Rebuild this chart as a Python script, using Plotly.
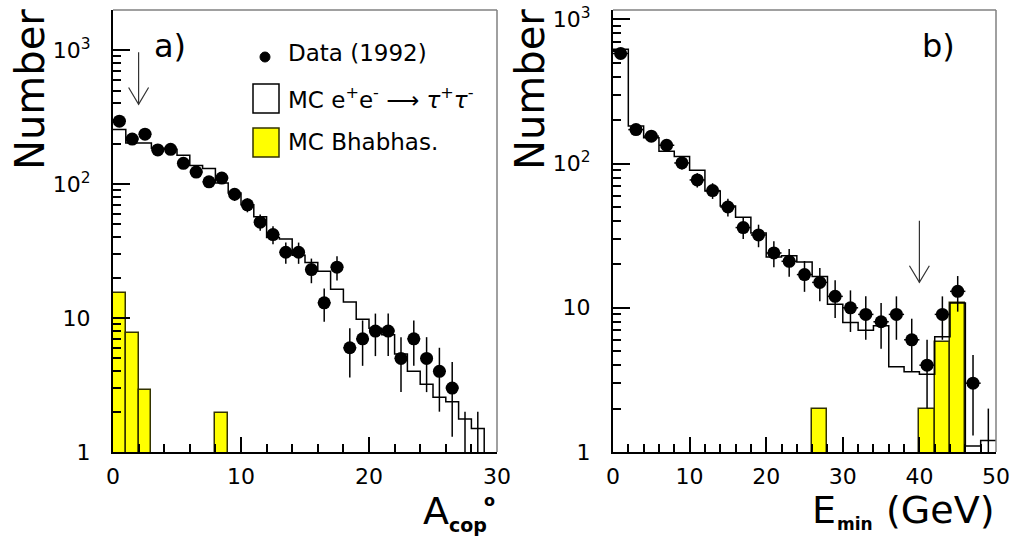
import plotly.graph_objects as go

# ---------------- data: panel a) acoplanarity ----------------
a_centers = [0.5, 1.5, 2.5, 3.5, 4.5, 5.5, 6.5, 7.5, 8.5, 9.5, 10.5, 11.5, 12.5, 13.5,
             14.5, 15.5, 16.5, 17.5, 18.5, 19.5, 20.5, 21.5, 22.5, 23.5, 24.5, 25.5, 26.5]
a_data = [295, 217, 236, 180, 182, 143, 123, 104, 111, 84, 70, 52, 42, 31,
          31, 23, 13, 24, 6, 7, 8, 8, 5, 7, 5, 4, 3]
a_err = [17.2, 14.7, 15.4, 13.4, 13.5, 12.0, 11.1, 10.2, 10.5, 9.2, 8.4, 7.2, 6.5, 5.6,
         5.6, 4.8, 3.6, 4.9, 2.4, 2.6, 2.8, 2.8, 2.2, 2.6, 2.2, 2.0, 1.7]
a_low_centers = [27.5, 28.5]
a_low_data = [1, 1]
a_low_err = [1, 1]
a_edges = list(range(0, 31))
a_mc_tau = [256, 203, 203, 185, 182, 164, 138, 131, 102, 86, 70, 57, 40, 39,
            29.5, 26, 22.4, 16.4, 13.2, 9.8, 8.4, 7.5, 5.4, 4.0, 3.2, 2.56, 2.37, 1.76, 1.5, 0.01]
a_bhabha_centers = [0.5, 1.5, 2.5, 8.5]
a_bhabha = [15.5, 7.8, 2.9, 1.95]
a_cut = 2

# ---------------- data: panel b) E_min ----------------
b_centers = [1, 3, 5, 7, 9, 11, 13, 15, 17, 19, 21, 23, 25, 27, 29, 31, 33, 35, 37, 39, 41, 43, 45, 47]
b_data = [580, 172, 155, 134, 101, 77, 65, 50, 36, 32, 24, 21, 17, 15, 12, 10, 9, 8, 9, 6, 4, 9, 13, 3]
b_err = [24.1, 13.1, 12.4, 11.6, 10.0, 8.8, 8.1, 7.1, 6.0, 5.7, 4.9, 4.6, 4.1, 3.9, 3.5, 3.2,
         3.0, 2.8, 3.0, 2.4, 2.0, 3.0, 3.6, 1.7]
b_low_centers = [49]
b_low_data = [1]
b_low_err = [1]
b_edges = list(range(0, 52, 2))
b_mc_tau = [620, 182, 151, 122, 112, 90, 64.5, 50.7, 42.5, 33, 22.5, 23, 20.8, 16.5,
            10.6, 7.9, 7.0, 7.5, 3.9, 3.6, 3.46, 6.3, 10.8, 1.1, 1.2]
b_bhabha_centers = [27, 41, 43, 45]
b_bhabha = [2, 2, 5.8, 10.8]
b_cut = 40

W, H = 1017, 540
FONT = "DejaVu Sans"

def px(x):
    return x / W

def py(y):
    return 1 - y / H

fig = go.Figure()

def step_xy(edges, vals):
    xs = list(edges[:len(vals)]) + [edges[len(vals)]]
    ys = list(vals) + [vals[-1]]
    return xs, ys

def add_panel(xa, ya, centers, data, err, low_c, low_d, low_e, edges, mc, bh_c, bh, bw):
    fig.add_trace(go.Bar(x=bh_c, y=bh, width=bw, marker=dict(color="#ffff00",
                         line=dict(color="#333300", width=1.5)),
                         xaxis=xa, yaxis=ya, showlegend=False))
    sx, sy = step_xy(edges, mc)
    fig.add_trace(go.Scatter(x=sx, y=sy, mode="lines", line=dict(shape="hv", color="black", width=1.5),
                             xaxis=xa, yaxis=ya, showlegend=False))
    fig.add_trace(go.Scatter(x=centers, y=data, mode="markers",
                             marker=dict(color="black", size=13),
                             error_y=dict(type="data", array=err, color="black", thickness=1.5, width=0),
                             error_x=dict(type="constant", value=bw / 2, color="black", thickness=1.5, width=0),
                             xaxis=xa, yaxis=ya, showlegend=False))
    fig.add_trace(go.Scatter(x=low_c, y=low_d, mode="markers",
                             marker=dict(color="black", size=0.1),
                             error_y=dict(type="data", array=low_e, arrayminus=[0] * len(low_e),
                                          symmetric=False, color="black", thickness=1.5, width=0),
                             xaxis=xa, yaxis=ya, showlegend=False))

add_panel("x", "y", a_centers, a_data, a_err, a_low_centers, a_low_data, a_low_err,
          a_edges, a_mc_tau, a_bhabha_centers, a_bhabha, 1)
add_panel("x2", "y2", b_centers, b_data, b_err, b_low_centers, b_low_data, b_low_err,
          b_edges, b_mc_tau, b_bhabha_centers, b_bhabha, 2)

# cut arrows (open V heads)
def add_arrow(xa, ya, xc, ytop, ytip, half_w, head_dec):
    fig.add_trace(go.Scatter(x=[xc, xc], y=[ytop, ytip], mode="lines",
                             line=dict(color="#333333", width=1.2), xaxis=xa, yaxis=ya, showlegend=False))
    f = 10 ** head_dec
    fig.add_trace(go.Scatter(x=[xc - half_w, xc, xc + half_w], y=[ytip * f, ytip, ytip * f], mode="lines",
                             line=dict(color="#333333", width=1.2), xaxis=xa, yaxis=ya, showlegend=False))

add_arrow("x", "y", a_cut, 966, 395, 0.78, 0.125)
add_arrow("x2", "y2", b_cut, 40.2, 15, 1.3, 0.115)

log_minor = [2, 3, 4, 5, 6, 7, 8, 9, 20, 30, 40, 50, 60, 70, 80, 90,
             200, 300, 400, 500, 600, 700, 800, 900, 2000]

def xaxis_cfg(dom, rng, tv, minor_tv):
    return dict(domain=dom, range=rng, showline=True, linecolor="black", linewidth=2,
                ticks="inside", ticklen=15, tickwidth=1.5, tickcolor="black",
                tickvals=tv, ticktext=[str(v) for v in tv],
                tickfont=dict(family=FONT, size=22, color="black"),
                ticklabelstandoff=4,
                minor=dict(ticks="inside", ticklen=8, tickwidth=1.5, tickcolor="black",
                           tickvals=minor_tv, showgrid=False),
                showgrid=False, zeroline=False, automargin=False, fixedrange=True)

def yaxis_cfg(anchor, top):
    return dict(domain=[1 - 452 / H, 1 - 10 / H], type="log", range=[0, top], anchor=anchor,
                showline=True, linecolor="black", linewidth=2,
                ticks="inside", ticklen=17, tickwidth=1.5, tickcolor="black",
                tickvals=[1, 10, 100, 1000], ticktext=["1", "10", "10<sup>2</sup>", "10<sup>3</sup>"],
                tickfont=dict(family=FONT, size=22, color="black"),
                ticklabelstandoff=16,
                minor=dict(ticks="inside", ticklen=8, tickwidth=1.5, tickcolor="black",
                           tickvals=log_minor, showgrid=False),
                showgrid=False, zeroline=False, automargin=False, fixedrange=True)

fig.update_layout(
    width=W, height=H,
    margin=dict(l=0, r=0, t=0, b=0),
    paper_bgcolor="white", plot_bgcolor="white",
    showlegend=False, bargap=0,
    xaxis=dict(anchor="y", **xaxis_cfg([113 / W, 497 / W], [0, 30], [0, 10, 20, 30],
                                       [2, 4, 6, 8, 12, 14, 16, 18, 22, 24, 26, 28])),
    yaxis=yaxis_cfg("x", 3.30),
    xaxis2=dict(anchor="y2", **xaxis_cfg([613 / W, 996 / W], [0, 50], [0, 10, 20, 30, 40, 50],
                                         [2, 4, 6, 8, 12, 14, 16, 18, 22, 24, 26, 28, 32, 34, 36, 38,
                                          42, 44, 46, 48])),
    yaxis2=yaxis_cfg("x2", 3.065),
)

shapes = []
# top/right frame lines
for xr, yr in (("x domain", "y domain"), ("x2 domain", "y2 domain")):
    shapes.append(dict(type="line", xref=xr, yref=yr, x0=0, x1=1, y0=1, y1=1,
                       line=dict(color="#808080", width=1.5)))
    shapes.append(dict(type="line", xref=xr, yref=yr, x0=1, x1=1, y0=0, y1=1,
                       line=dict(color="#808080", width=1.5)))
# legend symbols
shapes.append(dict(type="circle", xref="paper", yref="paper",
                   x0=px(260), x1=px(270), y0=py(62), y1=py(52),
                   fillcolor="black", line=dict(color="black", width=1)))
shapes.append(dict(type="rect", xref="paper", yref="paper",
                   x0=px(253), x1=px(279), y0=py(113), y1=py(84),
                   fillcolor="white", line=dict(color="black", width=1.5)))
shapes.append(dict(type="rect", xref="paper", yref="paper",
                   x0=px(253), x1=px(279), y0=py(157), y1=py(128),
                   fillcolor="#ffff00", line=dict(color="#333300", width=1.5)))
fig.update_layout(shapes=shapes)

ann = []
def text(x, y, s, size, xanchor="left", angle=0, yanchor="middle"):
    ann.append(dict(x=px(x), y=py(y), xref="paper", yref="paper", text=s, showarrow=False,
                    xanchor=xanchor, yanchor=yanchor, textangle=angle,
                    font=dict(family=FONT, size=size, color="black")))

text(30, 90, "Number", 40, xanchor="center", angle=-90)
text(530, 90, "Number", 40, xanchor="center", angle=-90)
text(152, 46, "a)", 32)
text(920, 46, "b)", 32)
text(286, 53, "Data (1992)", 23)
text(286, 98, "MC e<sup>+</sup>e<sup>-</sup> ⟶ <i>τ</i><sup>+</sup><i>τ</i><sup>-</sup>", 23)
text(286, 142, "MC Bhabhas.", 23)
# x-axis titles
text(421, 511, "A", 38)
text(447, 525, "<b>cop</b>", 19)
text(482, 500, "<b>o</b>", 16)
text(810, 510, "E", 38)
text(835, 524, "<b>min</b>", 17)
text(884, 510, "(GeV)", 38)
fig.update_layout(annotations=ann)

fig.write_html("out.html")
